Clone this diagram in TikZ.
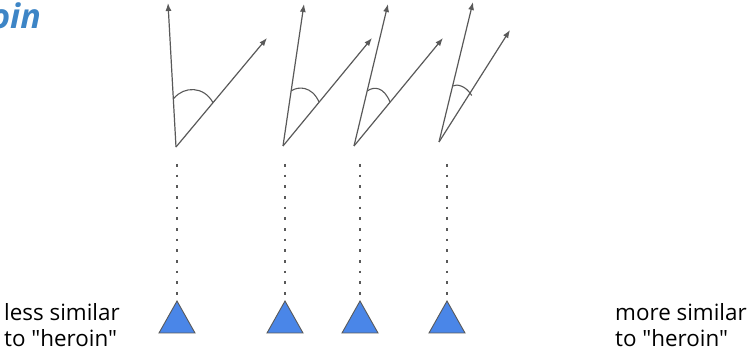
\documentclass[tikz,border=0pt]{standalone}
\usepackage{fontspec}
\newfontfamily\lblfont{Open Sans}
\newfontfamily\titlefont{Open Sans}
\usetikzlibrary{arrows.meta}
\definecolor{linegray}{HTML}{595959}
\definecolor{triblue}{HTML}{4A86E8}
\definecolor{titleblue}{HTML}{3D85C6}
\tikzset{
  vec/.style={draw=linegray, line width=1.2pt, -{Latex[length=8pt,width=6pt]}},
  anglearc/.style={draw=linegray, line width=1.1pt},
  dotline/.style={draw=linegray, line width=2.6pt, dash pattern=on 2.6pt off 8.07pt},
  tri/.style={draw=linegray, line width=0.9pt, fill=triblue, line join=miter},
  lbl/.style={inner sep=0pt, anchor=base west, font=\lblfont\fontsize{22.4}{26}\selectfont, text=black},
}
\begin{document}
\begin{tikzpicture}[x=1pt,y=-1pt]
\useasboundingbox (0,0) rectangle (750,355);
% title fragment
\node[inner sep=0pt, anchor=base east, text=titleblue,
  font=\titlefont\fontsize{34}{34}\selectfont\bfseries\itshape] (title) at (41,29) {oin};
% group 1
\coordinate (o1) at (176,147); \coordinate (v1) at (168,3); \coordinate (d1) at (267,38);
\coordinate (a1) at (174,98.3); \coordinate (b1) at (213,102.7);
% group 2
\coordinate (o2) at (283,146); \coordinate (v2) at (304,4); \coordinate (d2) at (372,38);
\coordinate (a2) at (291.1,91); \coordinate (b2) at (319,102);
% group 3
\coordinate (o3) at (354,146); \coordinate (v3) at (388,4); \coordinate (d3) at (443,38);
\coordinate (a3) at (367.3,91); \coordinate (b3) at (390,102);
% group 4
\coordinate (o4) at (439,142); \coordinate (v4) at (473,2); \coordinate (d4) at (510,30);
\coordinate (a4) at (452.7,86); \coordinate (b4) at (471.7,95.5);
\foreach \i in {1,2,3,4}{
  \draw[vec] (o\i) -- (v\i);
  \draw[vec] (o\i) -- (d\i);
}
\draw[anglearc] (a1) .. controls (184,86) and (204,86) .. (b1);
\draw[anglearc] (a2) .. controls (298,86) and (312,86) .. (b2);
\draw[anglearc] (a3) .. controls (374,86) and (384,87) .. (b3);
\draw[anglearc] (a4) .. controls (457,83.5) and (466,86) .. (b4);
% dotted lines and triangles
\foreach \i/\x in {1/177,2/285,3/360,4/447}{
  \coordinate (s\i) at (\x,164);
  \coordinate (e\i) at (\x,296);
  \coordinate (t\i) at (\x,301);
  \coordinate (l\i) at (\x-18,333);
  \coordinate (r\i) at (\x+18,333);
  \draw[dotline] (s\i) -- (e\i);
  \draw[tri] (t\i) -- (r\i) -- (l\i) -- cycle;
}
% labels
\node[lbl] (less1) at (4,321) {less similar};
\node[lbl] (less2) at (4,347) {to "heroin"};
\node[lbl] (more1) at (615,321) {more similar};
\node[lbl] (more2) at (615,347) {to "heroin"};
\end{tikzpicture}
\end{document}
